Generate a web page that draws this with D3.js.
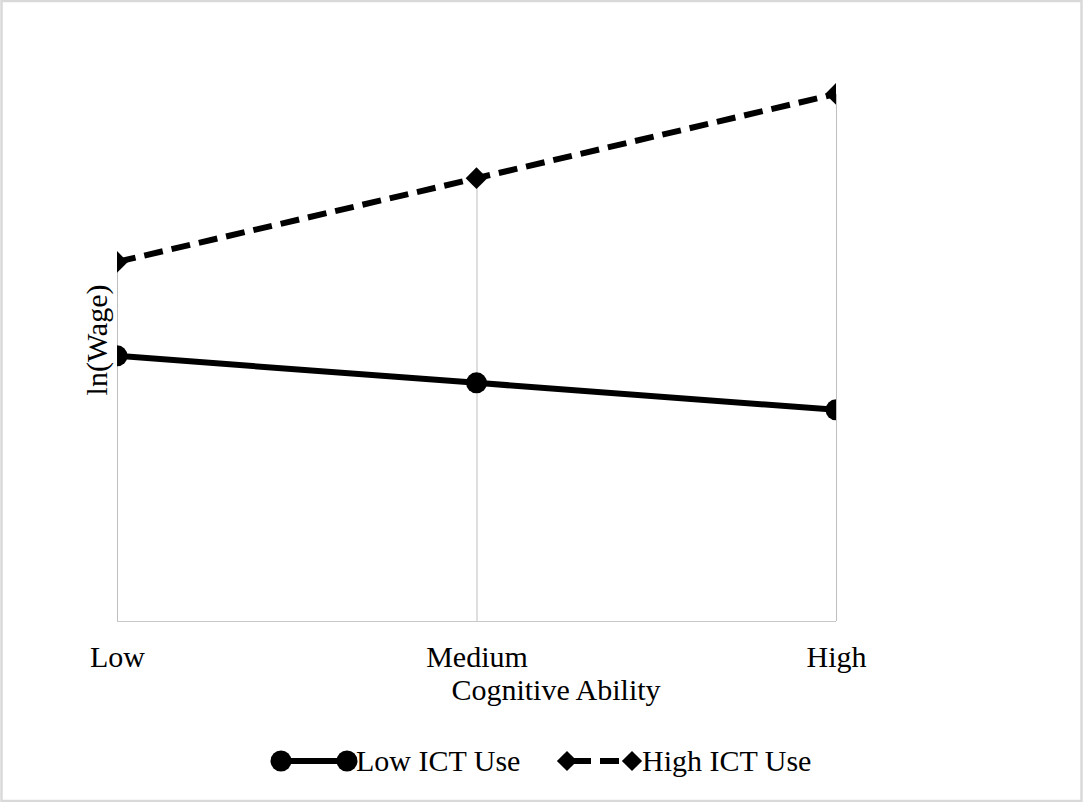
<!DOCTYPE html>
<html>
<head>
<meta charset="utf-8">
<script src="https://cdn.jsdelivr.net/npm/d3@7"></script>
<style>
  html, body { margin: 0; padding: 0; background: #fff; }
  svg { display: block; }
  text { font-family: "Liberation Serif", "Times New Roman", serif; fill: #000; }
</style>
</head>
<body>
<svg id="chart" width="1083" height="802"></svg>
<script>
// ---- data ----
const categories = ["Low", "Medium", "High"];
const lowICT = [4.91, 4.41, 3.91];
const highICT = [6.65, 8.20, 9.76];
const seriesNames = ["Low ICT Use", "High ICT Use"];
const xTitle = "Cognitive Ability";
const yTitle = "ln(Wage)";

// ---- layout ----
const W = 1083, H = 802;
const mLeft = 117, mRight = 836, mTop = 81, mBottom = 621;

const svg = d3.select("#chart");

// outer border
svg.append("rect")
  .attr("x", 1.5).attr("y", 1).attr("width", W - 3).attr("height", H - 2)
  .attr("fill", "#fff").attr("stroke", "#d9d9d9").attr("stroke-width", 2.5);

const x = d3.scalePoint().domain(categories).range([mLeft, mRight]);
const y = d3.scaleLinear().domain([0, 10]).range([mBottom, mTop]);

// clip (x only)
svg.append("defs").append("clipPath").attr("id", "clip")
  .append("rect").attr("x", mLeft).attr("y", 0).attr("width", mRight - mLeft).attr("height", H);

// bottom axis line
svg.append("line")
  .attr("x1", mLeft).attr("x2", mRight).attr("y1", mBottom + 0.5).attr("y2", mBottom + 0.5)
  .attr("stroke", "#c8c8c8").attr("stroke-width", 1);

// drop lines
svg.append("g").selectAll("line").data(categories).join("line")
  .attr("x1", d => x(d) + 0.5).attr("x2", d => x(d) + 0.5)
  .attr("y1", (d, i) => y(Math.max(lowICT[i], highICT[i])))
  .attr("y2", mBottom)
  .attr("stroke", "#bfbfbf").attr("stroke-width", 1);

// x tick labels
const xAxis = d3.axisBottom(x).tickSize(0).tickPadding(0);
const gx = svg.append("g").attr("transform", `translate(0,${mBottom})`).call(xAxis);
gx.select(".domain").remove();
gx.selectAll("text")
  .attr("y", 46).attr("dy", null)
  .style("font-family", '"Liberation Serif", serif')
  .style("font-size", "30px").attr("fill", "#000");

// axis titles
svg.append("text").attr("x", 556).attr("y", 700)
  .attr("text-anchor", "middle").style("font-size", "30px").text(xTitle);
svg.append("text")
  .attr("transform", `translate(107,340) rotate(-90)`)
  .attr("text-anchor", "middle").style("font-size", "30px").text(yTitle);

const plot = svg.append("g").attr("clip-path", "url(#clip)");
const line = d3.line().x((d, i) => x(categories[i])).y(d => y(d));

// High ICT (dashed, diamonds)
plot.append("path").datum(highICT)
  .attr("d", line).attr("fill", "none").attr("stroke", "#000")
  .attr("stroke-width", 6).attr("stroke-dasharray", "19,9");
const diamond = d3.symbol().type(d3.symbolDiamond2).size(300);
plot.selectAll(".dia").data(highICT).join("path")
  .attr("transform", (d, i) => `translate(${x(categories[i])},${y(d)})`)
  .attr("d", diamond).attr("fill", "#000");

// Low ICT (solid, circles)
plot.append("path").datum(lowICT)
  .attr("d", line).attr("fill", "none").attr("stroke", "#000")
  .attr("stroke-width", 6);
plot.selectAll(".cir").data(lowICT).join("circle")
  .attr("cx", (d, i) => x(categories[i])).attr("cy", d => y(d))
  .attr("r", 10.5).attr("fill", "#000");

// legend
const ly = 761;
const lg = svg.append("g");
lg.append("line").attr("x1", 281).attr("x2", 347).attr("y1", ly).attr("y2", ly)
  .attr("stroke", "#000").attr("stroke-width", 6);
lg.selectAll(".lc").data([281, 347]).join("circle")
  .attr("cx", d => d).attr("cy", ly).attr("r", 10.5).attr("fill", "#000");
lg.append("text").attr("x", 356).attr("y", 771).style("font-size", "30px").text(seriesNames[0]);

lg.append("line").attr("x1", 567).attr("x2", 632).attr("y1", ly).attr("y2", ly)
  .attr("stroke", "#000").attr("stroke-width", 6).attr("stroke-dasharray", "19,9")
  .attr("stroke-dashoffset", -5);
lg.selectAll(".ld").data([567, 632]).join("path")
  .attr("transform", d => `translate(${d},${ly})`)
  .attr("d", d3.symbol().type(d3.symbolDiamond2).size(260)).attr("fill", "#000");
lg.append("text").attr("x", 642).attr("y", 771).style("font-size", "30px").text(seriesNames[1]);
</script>
</body>
</html>
